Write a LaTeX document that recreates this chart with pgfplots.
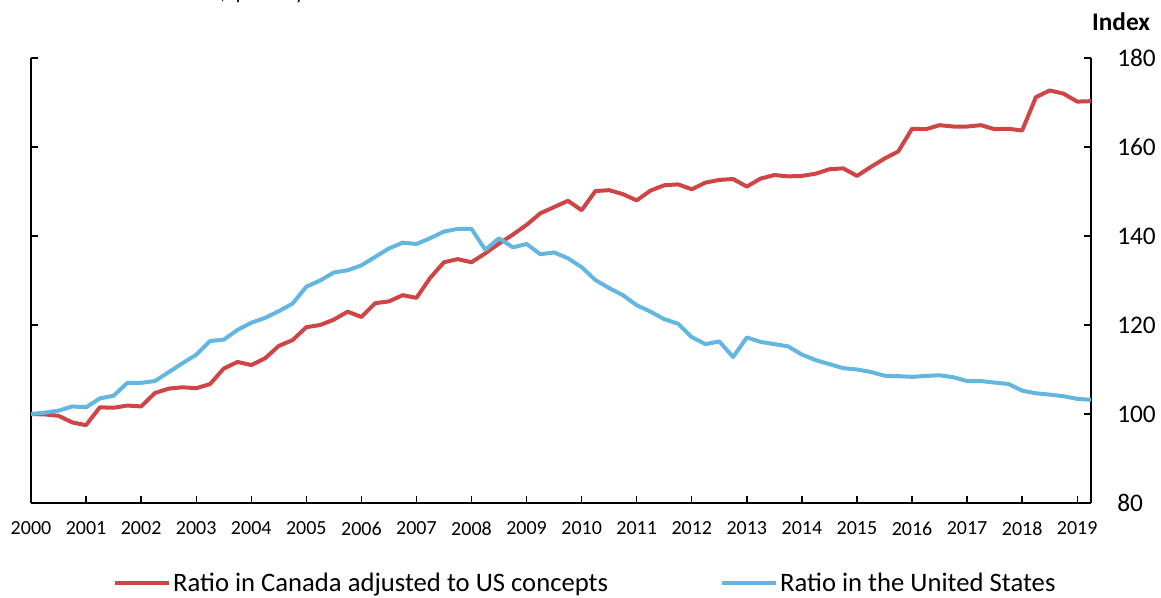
\documentclass[border=0pt]{standalone}
\usepackage{pgfplots}
\pgfplotsset{compat=1.18}
\usepackage{pgfplotstable}
\usepackage{fontspec}
\setmainfont{Carlito}
\definecolor{cared}{RGB}{207,68,69}
\definecolor{usblue}{RGB}{98,182,224}

\pgfplotstableread{
q v
0 100
1 99.9
2 99.6
3 98.1
4 97.5
5 101.5
6 101.4
7 101.9
8 101.7
9 104.7
10 105.7
11 106.0
12 105.8
13 106.7
14 110.2
15 111.7
16 111.0
17 112.5
18 115.3
19 116.6
20 119.5
21 120.0
22 121.2
23 123.0
24 121.8
25 124.9
26 125.3
27 126.7
28 126.1
29 130.6
30 134.1
31 134.8
32 134.1
33 136.1
34 138.3
35 140.3
36 142.5
37 145.1
38 146.5
39 147.9
40 145.8
41 150.1
42 150.3
43 149.4
44 148.0
45 150.2
46 151.4
47 151.6
48 150.5
49 152.0
50 152.6
51 152.8
52 151.1
53 152.9
54 153.7
55 153.4
56 153.5
57 154.0
58 155.0
59 155.2
60 153.5
61 155.5
62 157.4
63 159.0
64 164.1
65 164.0
66 164.9
67 164.6
68 164.6
69 164.9
70 164.0
71 164.1
72 163.7
73 171.2
74 172.7
75 172.0
76 170.2
77 170.3
}\canada

\pgfplotstableread{
q v
0 100
1 100.3
2 100.75
3 101.7
4 101.5
5 103.5
6 104.1
7 107.0
8 107.0
9 107.4
10 109.4
11 111.4
12 113.3
13 116.4
14 116.7
15 118.9
16 120.5
17 121.6
18 123.1
19 124.8
20 128.6
21 130.0
22 131.8
23 132.3
24 133.4
25 135.3
26 137.2
27 138.5
28 138.2
29 139.5
30 141.0
31 141.6
32 141.6
33 136.9
34 139.5
35 137.45
36 138.2
37 135.9
38 136.3
39 135.0
40 133.0
41 130.1
42 128.3
43 126.7
44 124.45
45 123.0
46 121.3
47 120.3
48 117.25
49 115.7
50 116.3
51 112.8
52 117.2
53 116.2
54 115.7
55 115.2
56 113.35
57 112.1
58 111.2
59 110.3
60 110.0
61 109.45
62 108.6
63 108.5
64 108.35
65 108.55
66 108.7
67 108.25
68 107.4
69 107.4
70 107.05
71 106.75
72 105.25
73 104.65
74 104.35
75 104.0
76 103.4
77 103.2
}\usa

\begin{document}
\begin{tikzpicture}
\useasboundingbox (0,0) rectangle (870.75pt,448.5pt);
\node[anchor=base west, inner sep=0pt, font=\fontsize{15}{18}\selectfont] at (165pt,448.5pt) {, quarterly};
% left axis line with ticks
\begin{axis}[
  at={(23.25pt,71.25pt)}, anchor=south west,
  scale only axis, width=795pt, height=333.75pt,
  xmin=0, xmax=77, ymin=80, ymax=180,
  axis x line=none, axis y line*=left,
  ytick={80,100,...,180}, yticklabels={},
  tick align=inside, major tick length=5pt,
  axis line style={line width=1.1pt}, every tick/.style={black, line width=1pt},
]
\end{axis}
\begin{axis}[
  at={(23.25pt,71.25pt)}, anchor=south west,
  scale only axis, width=795pt, height=333.75pt,
  xmin=0, xmax=77, ymin=80, ymax=180,
  clip mode=individual,
  axis x line*=bottom, axis y line*=right,
  ytick={80,100,...,180},
  xtick={0,4,...,76},
  xticklabels={2000,2001,2002,2003,2004,2005,2006,2007,2008,2009,2010,2011,2012,2013,2014,2015,2016,2017,2018,2019},
  tick align=inside, major tick length=5pt,
  axis line style={line width=1.1pt}, every tick/.style={black, line width=1pt},
  /pgf/number format/assume math mode=true,
  yticklabel style={font=\fontsize{19}{22}\selectfont, anchor=west, inner sep=0pt, xshift=19.5pt},
  xticklabel style={font=\fontsize{15}{18}\selectfont, anchor=north, inner sep=0pt, yshift=-14pt},
  legend columns=2,
  legend style={draw=none, fill=none, inner sep=0pt, outer sep=0pt,
    at={(0.0775,-0.18)}, anchor=west,
    font=\fontsize{20}{23}\selectfont,
    nodes={inner sep=0pt},
    /tikz/every odd column/.append style={column sep=1.5pt},
    /tikz/every even column/.append style={column sep=84pt}},
  legend image code/.code={\draw[#1] (0pt,0pt) -- (40.5pt,0pt);},
]
\addplot[cared, line width=3pt, line join=round] table[x=q,y=v] {\canada};
\addlegendentry{Ratio in Canada adjusted to US concepts}
\addplot[usblue, line width=3pt, line join=round] table[x=q,y=v] {\usa};
\addlegendentry{Ratio in the United States}
\node[anchor=base, inner sep=0pt, font=\fontsize{19}{22}\selectfont\bfseries] at (rel axis cs:1.0283,1.0629) {Index};
\end{axis}
\end{tikzpicture}
\end{document}
